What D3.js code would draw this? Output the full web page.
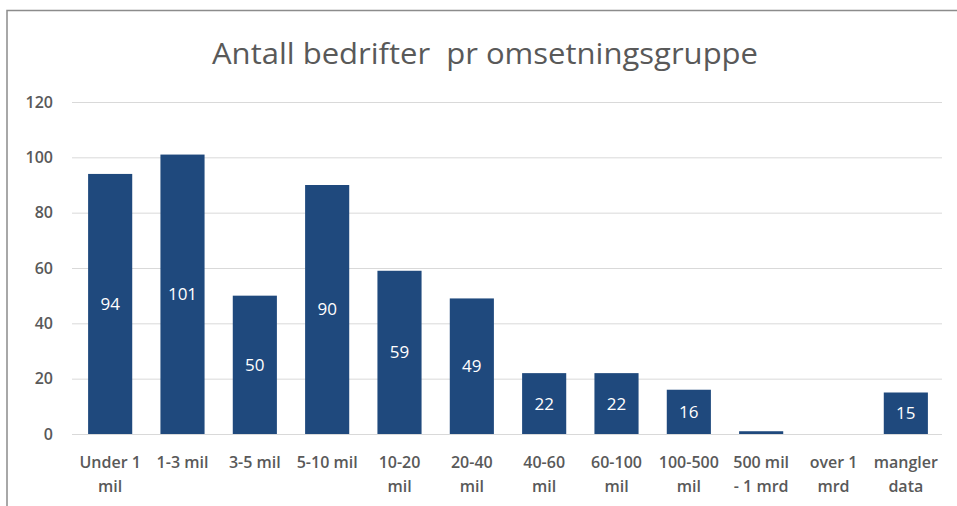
<!DOCTYPE html>
<html>
<head>
<meta charset="utf-8">
<script src="https://cdn.jsdelivr.net/npm/d3@7"></script>
<style>
  body { margin: 0; background: #fff; }
  svg text { font-family: "Open Sans", "Noto Sans", sans-serif; }
  .grid line { stroke: #d9d9d9; stroke-width: 1; }
  .grid path { display: none; }
  .ylab text { fill: #595959; font-size: 16px; font-weight: 600; }
  .xlab text { fill: #595959; font-size: 16px; font-weight: 600; }
</style>
</head>
<body>
<svg id="chart" width="957" height="506"></svg>
<script>
const title = "Antall bedrifter  pr omsetningsgruppe";

// kategorier (linjeskift som i originalen)
const kategorier = [
  "Under 1\nmil",
  "1-3 mil",
  "3-5 mil",
  "5-10 mil",
  "10-20\nmil",
  "20-40\nmil",
  "40-60\nmil",
  "60-100\nmil",
  "100-500\nmil",
  "500 mil\n- 1 mrd",
  "over 1\nmrd",
  "mangler\ndata"
];
const antall = [94, 101, 50, 90, 59, 49, 22, 22, 16, 1, 0, 15];
const yTicks = [0, 20, 40, 60, 80, 100, 120];

const rader = kategorier.map((k, i) => ({ kategori: k, verdi: antall[i] }));

const svg = d3.select("#chart");

// ramme rundt diagrammet
svg.append("rect")
  .attr("x", 7).attr("y", 10.5)
  .attr("width", 1000).attr("height", 600)
  .attr("fill", "#fff")
  .attr("stroke", "#8c8c8c")
  .attr("stroke-width", 1.5);

const x = d3.scaleBand()
  .domain(kategorier)
  .range([74, 942])
  .paddingInner(0.39)
  .paddingOuter(0.195);

const y = d3.scaleLinear()
  .domain([0, 120])
  .range([434, 102]);

svg.append("text")
  .attr("x", 485)
  .attr("y", 64)
  .attr("text-anchor", "middle")
  .attr("fill", "#595959")
  .style("font-size", "30px")
  .style("white-space", "pre")
  .attr("textLength", 546)
  .attr("lengthAdjust", "spacingAndGlyphs")
  .text(title);

// rutenett
svg.append("g")
  .attr("class", "grid")
  .attr("transform", "translate(72,0)")
  .call(d3.axisRight(y).tickValues(yTicks).tickSize(870).tickFormat(""));

// y-akse tall
svg.append("g")
  .attr("class", "ylab")
  .selectAll("text")
  .data(yTicks)
  .enter()
  .append("text")
  .attr("x", 53)
  .attr("y", (d) => y(d))
  .attr("dy", "0.35em")
  .attr("text-anchor", "end")
  .text((d) => d);

// søyler
svg.append("g")
  .selectAll("rect")
  .data(rader)
  .enter()
  .append("rect")
  .attr("x", (d) => x(d.kategori))
  .attr("y", (d) => y(d.verdi))
  .attr("width", x.bandwidth())
  .attr("height", (d) => y(0) - y(d.verdi))
  .attr("fill", "#1f497d");

// verdier inne i søylene (små verdier vises ikke)
svg.append("g")
  .selectAll("text")
  .data(rader.filter((d) => d.verdi >= 5))
  .enter()
  .append("text")
  .attr("x", (d) => x(d.kategori) + x.bandwidth() / 2)
  .attr("y", (d) => (y(d.verdi) + y(0)) / 2)
  .attr("dy", "0.35em")
  .attr("text-anchor", "middle")
  .attr("fill", "#fff")
  .style("font-size", "17px")
  .text((d) => d.verdi);

// x-akse etiketter
const xl = svg.append("g").attr("class", "xlab");
kategorier.forEach((k) => {
  const t = xl.append("text")
    .attr("x", x(k) + x.bandwidth() / 2)
    .attr("y", 468)
    .attr("text-anchor", "middle");
  k.split("\n").forEach((linje, j) => {
    t.append("tspan")
      .attr("x", x(k) + x.bandwidth() / 2)
      .attr("dy", j === 0 ? 0 : 24)
      .text(linje);
  });
});
</script>
</body>
</html>
